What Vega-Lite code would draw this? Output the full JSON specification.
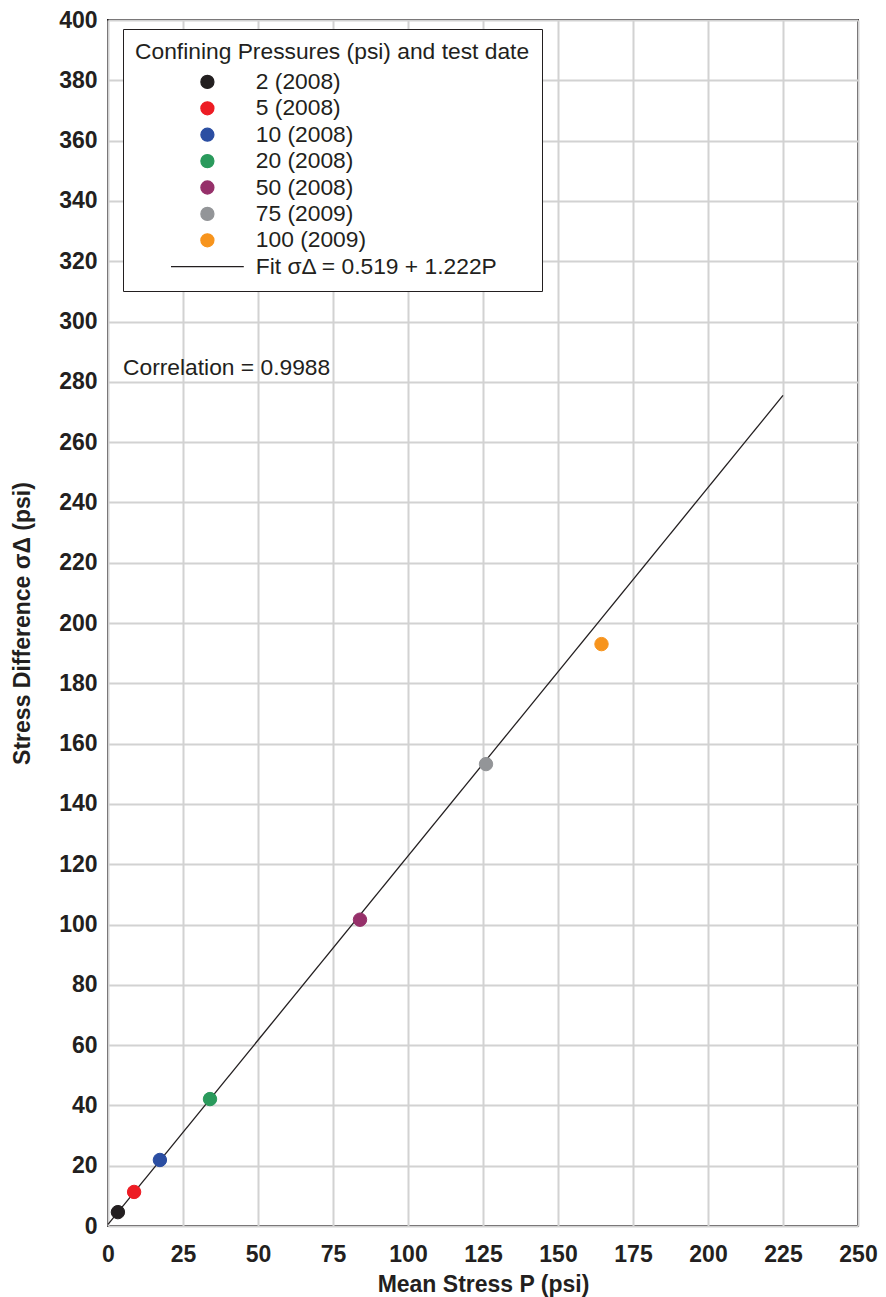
{
  "$schema": "https://vega.github.io/schema/vega-lite/v6.json",
  "width": 750,
  "height": 1206,
  "autosize": "none",
  "padding": {"left": 108, "top": 20, "right": 28, "bottom": 71},
  "background": "white",
  "config": {
    "font": "Liberation Sans",
    "view": {"stroke": "#231f20", "strokeWidth": 2},
    "axis": {
      "grid": true, "gridColor": "#d2d2d2", "gridWidth": 2,
      "domain": false, "ticks": false, "labelFlush": false,
      "labelFont": "Liberation Sans", "labelFontSize": 23, "labelFontWeight": "bold", "labelColor": "#231f20",
      "titleFont": "Liberation Sans", "titleFontSize": 23, "titleFontWeight": "bold", "titleColor": "#231f20"
    },
    "legend": {
      "fillColor": "white", "strokeColor": "#231f20",
      "padding": 12,
      "titleFont": "Liberation Sans", "titleFontSize": 22.8, "titleFontWeight": "normal", "titleColor": "#231f20", "titlePadding": 6.7, "titleLimit": 700,
      "labelFont": "Liberation Sans", "labelFontSize": 22.8, "labelColor": "#231f20", "labelLimit": 500,
      "symbolSize": 169, "symbolStrokeWidth": 1.3, "symbolOffset": 61, "labelOffset": 37,
      "rowPadding": 2.4
    }
  },
  "datasets": {
    "pts": [
      {"P": 3.3, "S": 4.6, "series": "2 (2008)"},
      {"P": 8.7, "S": 11.3, "series": "5 (2008)"},
      {"P": 17.3, "S": 21.9, "series": "10 (2008)"},
      {"P": 34.0, "S": 42.1, "series": "20 (2008)"},
      {"P": 84.0, "S": 101.6, "series": "50 (2008)"},
      {"P": 126.0, "S": 153.2, "series": "75 (2009)"},
      {"P": 164.5, "S": 193.0, "series": "100 (2009)"}
    ],
    "fit": [
      {"P": 0, "S": 0.519},
      {"P": 225, "S": 275.469}
    ],
    "note": [
      {"P": 5, "S": 284.6, "label": "Correlation = 0.9988"}
    ]
  },
  "layer": [
    {
      "data": {"name": "fit"},
      "mark": {"type": "line", "color": "#231f20", "strokeWidth": 1.3},
      "encoding": {
        "x": {"field": "P", "type": "quantitative", "scale": {"domain": [0, 250], "nice": false},
              "axis": {"values": [0,25,50,75,100,125,150,175,200,225,250], "title": "Mean Stress P (psi)", "labelPadding": 17, "titlePadding": 7}},
        "y": {"field": "S", "type": "quantitative", "scale": {"domain": [0, 400], "nice": false},
              "axis": {"values": [0,20,40,60,80,100,120,140,160,180,200,220,240,260,280,300,320,340,360,380,400], "title": "Stress Difference σΔ (psi)", "labelPadding": 11, "titlePadding": 24}}
      }
    },
    {
      "data": {"name": "pts"},
      "mark": {"type": "point", "filled": true, "opacity": 1, "size": 180, "strokeWidth": 1},
      "encoding": {
        "x": {"field": "P", "type": "quantitative"},
        "y": {"field": "S", "type": "quantitative"},
        "color": {
          "field": "series", "type": "nominal",
          "scale": {
            "domain": ["2 (2008)", "5 (2008)", "10 (2008)", "20 (2008)", "50 (2008)", "75 (2009)", "100 (2009)", "Fit σΔ = 0.519 + 1.222P"],
            "range": ["#231f20", "#ed1c24", "#2b4ea2", "#2a9a5c", "#96306a", "#939598", "#f7941d", "#231f20"]
          },
          "legend": {
            "title": "Confining Pressures (psi) and test date",
            "orient": "none", "legendX": 15, "legendY": 9
          }
        },
        "stroke": {
          "field": "series", "type": "nominal",
          "scale": {
            "domain": ["2 (2008)", "5 (2008)", "10 (2008)", "20 (2008)", "50 (2008)", "75 (2009)", "100 (2009)", "Fit σΔ = 0.519 + 1.222P"],
            "range": ["#231f20", "#ed1c24", "#2b4ea2", "#2a9a5c", "#96306a", "#939598", "#f7941d", "#231f20"]
          },
          "legend": {
            "title": "Confining Pressures (psi) and test date",
            "orient": "none", "legendX": 15, "legendY": 9
          }
        },
        "shape": {
          "field": "series", "type": "nominal",
          "scale": {
            "domain": ["2 (2008)", "5 (2008)", "10 (2008)", "20 (2008)", "50 (2008)", "75 (2009)", "100 (2009)", "Fit σΔ = 0.519 + 1.222P"],
            "range": ["circle", "circle", "circle", "circle", "circle", "circle", "circle", "M-5.6,0H5.6"]
          },
          "legend": {
            "title": "Confining Pressures (psi) and test date",
            "orient": "none", "legendX": 15, "legendY": 9
          }
        }
      }
    },
    {
      "data": {"name": "note"},
      "mark": {"type": "text", "align": "left", "baseline": "middle", "font": "Liberation Sans", "fontSize": 22.8, "color": "#231f20"},
      "encoding": {
        "x": {"field": "P", "type": "quantitative"},
        "y": {"field": "S", "type": "quantitative"},
        "text": {"field": "label"}
      }
    }
  ]
}
